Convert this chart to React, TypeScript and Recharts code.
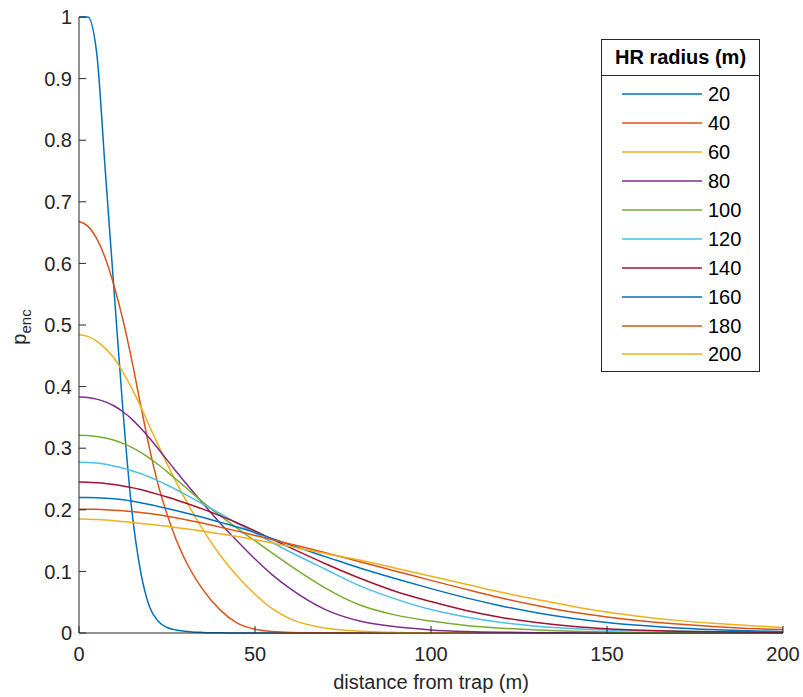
import React from 'react'
import { LineChart, Line, XAxis, YAxis, Legend, Label } from 'recharts'

const FONT = '"Liberation Sans", Arial, Helvetica, sans-serif'
const AXIS = '#262626'

// distance from trap (m)
const DIST = [0, 2.5, 5, 7.5, 10, 12.5, 15, 17.5, 20, 22.5, 25, 27.5, 30, 35, 40, 45, 50, 55, 60, 70, 80, 90, 100, 110, 120, 130, 140, 150, 160, 170, 180, 190, 200]

// p_enc for each home range radius
const R20 = [1, 1, 0.943, 0.748, 0.553, 0.36, 0.2, 0.1, 0.043, 0.019, 0.009, 0.005, 0.003, 0.001, 0.0003, 0, 0, 0, 0, 0, 0, 0, 0, 0, 0, 0, 0, 0, 0, 0, 0, 0, 0]
const R40 = [0.668, 0.6605, 0.6405, 0.608, 0.563, 0.508, 0.443, 0.3705, 0.3005, 0.2405, 0.193, 0.153, 0.1205, 0.072, 0.038, 0.016, 0.006, 0.0025, 0.001, 0.0003, 0.0001, 0, 0, 0, 0, 0, 0, 0, 0, 0, 0, 0, 0]
const R60 = [0.484, 0.4815, 0.474, 0.462, 0.446, 0.423, 0.397, 0.368, 0.336, 0.305, 0.275, 0.246, 0.219, 0.17, 0.127, 0.092, 0.063, 0.039, 0.023, 0.008, 0.003, 0.001, 0.0003, 0.0001, 0, 0, 0, 0, 0, 0, 0, 0, 0]
const R80 = [0.383, 0.3822, 0.3797, 0.3752, 0.3685, 0.3592, 0.3472, 0.3327, 0.3165, 0.299, 0.281, 0.263, 0.2455, 0.212, 0.179, 0.149, 0.12, 0.094, 0.072, 0.038, 0.019, 0.01, 0.005, 0.0025, 0.0012, 0.0006, 0.0003, 0.0001, 0, 0, 0, 0, 0]
const R100 = [0.321, 0.3205, 0.319, 0.3165, 0.3128, 0.3078, 0.3013, 0.2933, 0.284, 0.2735, 0.262, 0.25, 0.2378, 0.2133, 0.1908, 0.1698, 0.1498, 0.1293, 0.1093, 0.073, 0.045, 0.029, 0.0193, 0.0123, 0.0078, 0.0048, 0.0028, 0.0016, 0.0008, 0.0003, 0.0001, 0, 0]
const R120 = [0.277, 0.2768, 0.2758, 0.2738, 0.2708, 0.2675, 0.2635, 0.2588, 0.2533, 0.247, 0.2403, 0.233, 0.2255, 0.21, 0.194, 0.178, 0.162, 0.1465, 0.1315, 0.1035, 0.076, 0.055, 0.038, 0.026, 0.017, 0.011, 0.0075, 0.005, 0.0037, 0.0028, 0.0021, 0.0016, 0.0012]
const R140 = [0.245, 0.2448, 0.244, 0.2428, 0.241, 0.2388, 0.236, 0.2328, 0.229, 0.225, 0.2208, 0.2163, 0.2115, 0.2015, 0.1905, 0.1785, 0.1655, 0.152, 0.1385, 0.1125, 0.0885, 0.0675, 0.051, 0.0365, 0.0252, 0.017, 0.011, 0.007, 0.0045, 0.003, 0.002, 0.0015, 0.001]
const R160 = [0.22, 0.2199, 0.2195, 0.2188, 0.2178, 0.2163, 0.2143, 0.2116, 0.2085, 0.2055, 0.2022, 0.1988, 0.1953, 0.188, 0.18, 0.172, 0.163, 0.153, 0.143, 0.124, 0.105, 0.088, 0.072, 0.057, 0.044, 0.033, 0.024, 0.017, 0.012, 0.008, 0.0055, 0.0035, 0.0025]
const R180 = [0.201, 0.2009, 0.2007, 0.2002, 0.1994, 0.1984, 0.1972, 0.1957, 0.1939, 0.1919, 0.1897, 0.1872, 0.1844, 0.1784, 0.1719, 0.1654, 0.1584, 0.1514, 0.1444, 0.1304, 0.1154, 0.1004, 0.0854, 0.0708, 0.0568, 0.0445, 0.034, 0.026, 0.0195, 0.0145, 0.0105, 0.0075, 0.0055]
const R200 = [0.185, 0.1847, 0.1841, 0.1833, 0.1822, 0.1809, 0.1795, 0.178, 0.1765, 0.1749, 0.1732, 0.1714, 0.1695, 0.1655, 0.161, 0.1565, 0.1515, 0.146, 0.1405, 0.129, 0.118, 0.105, 0.092, 0.079, 0.066, 0.0545, 0.0435, 0.034, 0.0265, 0.0205, 0.0158, 0.012, 0.009]

const X_TICKS = [0, 50, 100, 150, 200]
const Y_TICKS = [0, 0.1, 0.2, 0.3, 0.4, 0.5, 0.6, 0.7, 0.8, 0.9, 1]

const SERIES = [
  { key: 'r20', name: '20', color: '#0072BD', values: R20 },
  { key: 'r40', name: '40', color: '#D95319', values: R40 },
  { key: 'r60', name: '60', color: '#EDB120', values: R60 },
  { key: 'r80', name: '80', color: '#7E2F8E', values: R80 },
  { key: 'r100', name: '100', color: '#77AC30', values: R100 },
  { key: 'r120', name: '120', color: '#4DBEEE', values: R120 },
  { key: 'r140', name: '140', color: '#A2142F', values: R140 },
  { key: 'r160', name: '160', color: '#0072BD', values: R160 },
  { key: 'r180', name: '180', color: '#D95319', values: R180 },
  { key: 'r200', name: '200', color: '#EDB120', values: R200 },
]

const data = DIST.map((d, i) => {
  const row: any = { d }
  SERIES.forEach(s => { row[s.key] = s.values[i] })
  return row
})

function LegendBox({ payload }: any) {
  const order = SERIES.map(s => s.name)
  // keep the series order (recharts sorts legend items by default)
  const items = [...(payload || [])].sort((a: any, b: any) => order.indexOf(a.value) - order.indexOf(b.value))
  return (
    <div style={{
      position: 'relative', width: 157, height: 331, border: `1px solid ${AXIS}`,
      background: '#fff', fontFamily: FONT, color: '#000'
    }}>
      <div style={{
        height: 35, borderBottom: `1px solid ${AXIS}`, fontWeight: 'bold', fontSize: 20,
        lineHeight: '35px', textAlign: 'center'
      }}>
        HR radius (m)
      </div>
      {items.map((item: any, i: number) => (
        <div key={i} style={{
          position: 'absolute', left: 0, top: 54.3 + i * 28.9 - 14, height: 28,
          display: 'flex', alignItems: 'center'
        }}>
          <svg width={80} height={6} style={{ marginLeft: 20, display: 'block' }}>
            <line x1={0} y1={3} x2={80} y2={3} stroke={item.color} strokeWidth={1.5} />
          </svg>
          <span style={{ marginLeft: 6, fontSize: 20, lineHeight: '28px' }}>{item.value}</span>
        </div>
      ))}
    </div>
  )
}

export default function App() {
  return (
    <div style={{ position: 'absolute', left: 0, top: 0, width: 803, height: 697, background: '#fff' }}>
      <LineChart
        width={803}
        height={697}
        data={data}
        margin={{ top: 17, right: 20, left: 0, bottom: 0 }}
        style={{ fontFamily: FONT }}
      >
        <XAxis
          dataKey="d"
          type="number"
          domain={[0, 200]}
          ticks={X_TICKS}
          height={64}
          tickSize={-7}
          tickMargin={21}
          stroke={AXIS}
          tick={{ fill: AXIS, fontSize: 20 }}
        >
          <Label content={() => (
            <text x={431} y={689} textAnchor="middle" fontSize={20} fill={AXIS} fontFamily={FONT}>
              distance from trap (m)
            </text>
          )} />
        </XAxis>
        <YAxis
          type="number"
          domain={[0, 1]}
          ticks={Y_TICKS}
          width={79}
          tickSize={-7}
          tickMargin={14}
          stroke={AXIS}
          tick={{ fill: AXIS, fontSize: 20 }}
        >
          <Label content={() => (
            <text transform="translate(26,327) rotate(-90)" textAnchor="middle" fontSize={20} fill={AXIS} fontFamily={FONT}>
              p<tspan dy={5} fontSize={15}>enc</tspan>
            </text>
          )} />
        </YAxis>
        <Legend
          layout="vertical"
          align="center"
          verticalAlign="middle"
          content={<LegendBox />}
          wrapperStyle={{ position: 'absolute', left: 601, top: 39, width: 159, height: 333 }}
        />
        {SERIES.map(s => (
          <Line
            key={s.key}
            type="monotone"
            dataKey={s.key}
            name={s.name}
            stroke={s.color}
            strokeWidth={1.5}
            dot={false}
            activeDot={false}
            isAnimationActive={false}
          />
        ))}
      </LineChart>
    </div>
  )
}
